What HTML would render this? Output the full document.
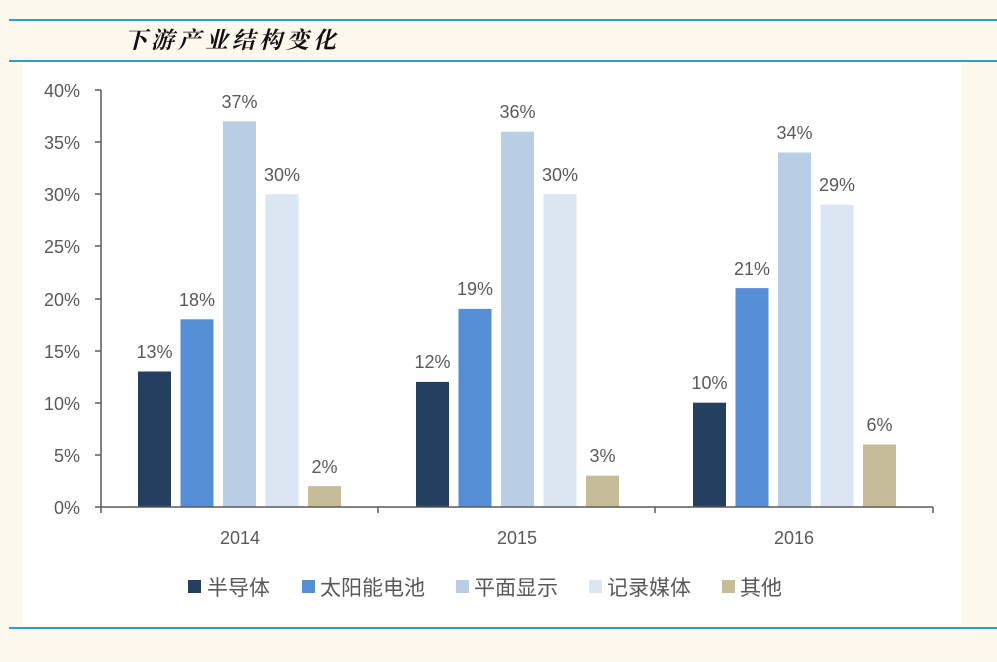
<!DOCTYPE html>
<html><head><meta charset="utf-8"><style>
body{margin:0;background:#fdf8ee;width:997px;height:657px;overflow:hidden;font-family:"Liberation Sans","Noto Sans CJK SC",sans-serif}
</style></head><body>
<svg width="997" height="657" xmlns="http://www.w3.org/2000/svg" font-family="Liberation Sans, Noto Sans CJK SC, sans-serif">
<rect width="997" height="657" fill="#fdf8ee"/>
<line x1="9" y1="20" x2="997" y2="20" stroke="#2a9fd0" stroke-width="2"/>
<line x1="9" y1="61" x2="997" y2="61" stroke="#2a9fd0" stroke-width="2"/>
<text x="124" y="48" font-size="23" font-style="italic" font-weight="bold" fill="#111" letter-spacing="4" font-family="Noto Serif CJK SC, Noto Sans CJK SC, serif">下游产业结构变化</text>
<rect x="22" y="63" width="940" height="562" fill="#fff"/>
<line x1="9" y1="628" x2="997" y2="628" stroke="#2a9fd0" stroke-width="2"/>
<g font-size="18" fill="#595959" text-anchor="end">
<text x="80" y="514">0%</text><text x="80" y="462">5%</text><text x="80" y="410">10%</text><text x="80" y="358">15%</text><text x="80" y="306">20%</text><text x="80" y="253">25%</text><text x="80" y="201">30%</text><text x="80" y="149">35%</text><text x="80" y="97">40%</text>
</g>
<g stroke="#595959" stroke-width="1.5">
<line x1="101" y1="90" x2="101" y2="507"/>
<line x1="95" y1="90" x2="101" y2="90"/><line x1="95" y1="142" x2="101" y2="142"/><line x1="95" y1="194" x2="101" y2="194"/><line x1="95" y1="246" x2="101" y2="246"/><line x1="95" y1="299" x2="101" y2="299"/><line x1="95" y1="351" x2="101" y2="351"/><line x1="95" y1="403" x2="101" y2="403"/><line x1="95" y1="455" x2="101" y2="455"/>
</g>
<g>
<rect x="138" y="371.5" width="33" height="135.5" fill="#243f60"/>
<rect x="180.5" y="319.3" width="33" height="187.7" fill="#558ed5"/>
<rect x="223" y="121.3" width="33" height="385.7" fill="#b9cde5"/>
<rect x="265.5" y="194.2" width="33" height="312.8" fill="#dce6f2"/>
<rect x="308" y="486.1" width="33" height="20.9" fill="#c4bd97"/>
<rect x="416" y="381.9" width="33" height="125.1" fill="#243f60"/>
<rect x="458.5" y="308.9" width="33" height="198.1" fill="#558ed5"/>
<rect x="501" y="131.7" width="33" height="375.3" fill="#b9cde5"/>
<rect x="543.5" y="194.2" width="33" height="312.8" fill="#dce6f2"/>
<rect x="586" y="475.7" width="33" height="31.3" fill="#c4bd97"/>
<rect x="693" y="402.7" width="33" height="104.3" fill="#243f60"/>
<rect x="735.5" y="288.1" width="33" height="218.9" fill="#558ed5"/>
<rect x="778" y="152.5" width="33" height="354.5" fill="#b9cde5"/>
<rect x="820.5" y="204.7" width="33" height="302.3" fill="#dce6f2"/>
<rect x="863" y="444.4" width="33" height="62.6" fill="#c4bd97"/>
</g>
<g font-size="18" fill="#595959" text-anchor="middle">
<text x="154.5" y="358">13%</text><text x="197" y="306">18%</text><text x="239.5" y="108">37%</text><text x="282" y="181">30%</text><text x="324.5" y="473">2%</text>
<text x="432.5" y="368">12%</text><text x="475" y="295">19%</text><text x="517.5" y="118">36%</text><text x="560" y="181">30%</text><text x="602.5" y="462">3%</text>
<text x="709.5" y="389">10%</text><text x="752" y="275">21%</text><text x="794.5" y="139">34%</text><text x="837" y="191">29%</text><text x="879.5" y="431">6%</text>
</g>
<g stroke="#595959" stroke-width="1.5">
<line x1="95" y1="507" x2="933" y2="507"/>
<line x1="101" y1="507" x2="101" y2="513"/><line x1="378" y1="507" x2="378" y2="513"/><line x1="655" y1="507" x2="655" y2="513"/><line x1="933" y1="507" x2="933" y2="513"/>
</g>
<g font-size="18" fill="#595959" text-anchor="middle">
<text x="240" y="544">2014</text><text x="517" y="544">2015</text><text x="794" y="544">2016</text>
</g>
<g font-size="21" fill="#595959">
<rect x="188" y="580" width="13" height="13" fill="#243f60"/><text x="207" y="595">半导体</text>
<rect x="302" y="580" width="13" height="13" fill="#558ed5"/><text x="320" y="595">太阳能电池</text>
<rect x="456" y="580" width="13" height="13" fill="#b9cde5"/><text x="474" y="595">平面显示</text>
<rect x="589" y="580" width="13" height="13" fill="#dce6f2"/><text x="607" y="595">记录媒体</text>
<rect x="722" y="580" width="13" height="13" fill="#c4bd97"/><text x="740" y="595">其他</text>
</g>
</svg>
</body></html>
